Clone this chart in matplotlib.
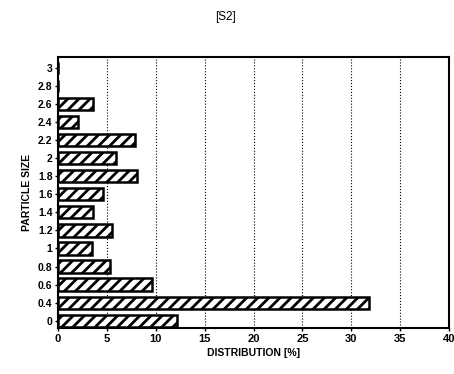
import numpy as np
import matplotlib
matplotlib.use("Agg")
import matplotlib.pyplot as plt

plt.rcParams['font.family'] = ['Liberation Sans', 'DejaVu Sans']
plt.rcParams['hatch.linewidth'] = 2.0

# particle size categories and distribution (%)
sizes = ['0', '0.4', '0.6', '0.8', '1', '1.2', '1.4', '1.6', '1.8', '2', '2.2', '2.4', '2.6', '2.8', '3']
dist = [12.2, 31.8, 9.6, 5.3, 3.5, 5.5, 3.6, 4.6, 8.1, 5.9, 7.9, 2.0, 3.6, 0, 0]
xticks = [0, 5, 10, 15, 20, 25, 30, 35, 40]

fig = plt.figure(figsize=(4.54, 3.74), dpi=100)
ax = fig.add_axes([0.128, 0.123, 0.861, 0.725])

y = np.arange(len(sizes))
ax.barh(y, dist, height=0.68, color='white', edgecolor='black',
        hatch='///', linewidth=1.8)

ax.set_xlim(0, 40)
ax.set_ylim(-0.4, 14.6)
ax.set_yticks(y)
ax.set_yticklabels(sizes, fontsize=7.5, fontweight='bold')
ax.set_xticks(xticks)
ax.set_xticklabels([str(t) for t in xticks], fontsize=8, fontweight='bold')
ax.tick_params(axis='both', length=2, width=1, pad=2)

ax.grid(axis='x', linestyle=':', color='black', linewidth=0.8)
ax.set_axisbelow(True)
for s in ax.spines.values():
    s.set_linewidth(1.5)

ax.set_xlabel('DISTRIBUTION [%]', fontsize=7.5, fontweight='bold', labelpad=3)
ax.set_ylabel('PARTICLE SIZE', fontsize=7.5, fontweight='bold', labelpad=4)
fig.text(0.497, 0.955, '[S2]', ha='center', va='center', fontsize=8.5)

plt.savefig('out.png', dpi=100)
